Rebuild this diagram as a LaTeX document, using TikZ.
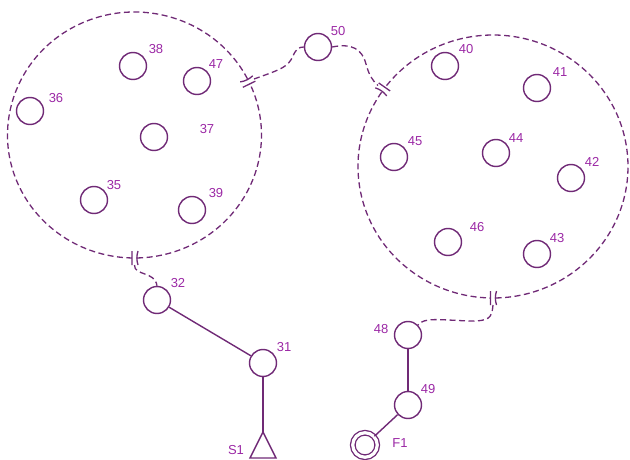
\documentclass[tikz,border=0pt]{standalone}
\usepackage{fontspec}
\setmainfont{Liberation Sans}
\definecolor{linec}{RGB}{112,42,118}
\definecolor{textc}{RGB}{155,40,165}
\begin{document}
\begin{tikzpicture}[x=1pt,y=1pt]
\tikzset{
  sn/.style={circle, draw=linec, line width=1.4pt, minimum size=27pt, inner sep=0pt},
  lbl/.style={text=textc, font=\fontsize{13}{13}\selectfont, inner sep=0pt},
  dsh/.style={draw=linec, line width=1.3pt, dash pattern=on 6pt off 3.5pt},
  sol/.style={draw=linec, line width=1.4pt},
  pics/brk/.style={code={\draw[linec, line width=1.3pt] (-7,-2.5)--(7,-2.5) (-7,3.5) .. controls (-2,2) and (2,2) .. (7,3.5);}}
}
\useasboundingbox (0,0) rectangle (630,459);
% big dashed regions
\coordinate (cL) at (134.5,324);
\coordinate (cR) at (493,292.5);
\draw[dsh] (cL) ++(27.2:127 and 123) arc[start angle=27.2, end angle=268.8, x radius=127, y radius=123];
\draw[dsh] (cL) ++(271.2:127 and 123) arc[start angle=271.2, end angle=384.8, x radius=127, y radius=123];
\draw[dsh] (cR) ++(145.6:135 and 131.5) arc[start angle=145.6, end angle=268.9, x radius=135, y radius=131.5];
\draw[dsh] (cR) ++(271.1:135 and 131.5) arc[start angle=271.1, end angle=503.4, x radius=135, y radius=131.5];
% break marks
\coordinate (bLT) at (248,377);
\coordinate (bLB) at (134.5,201);
\coordinate (bRT) at (383,370);
\coordinate (bRB) at (493,161);
\pic[rotate=26] at (bLT) {brk};
\pic[rotate=270] at (bLB) {brk};
\pic[rotate=145] at (bRT) {brk};
\pic[rotate=270] at (bRB) {brk};
\coordinate (bLTo) at (254,380);
\coordinate (bLBo) at (134.5,194);
\coordinate (bRTo) at (378,373.5);
\coordinate (bRBo) at (493,154);
% small nodes
\node[sn] (n38) at (133,393) {};
\node[sn] (n47) at (197,378) {};
\node[sn] (n36) at (30,348) {};
\node[sn] (n37) at (154,322) {};
\node[sn] (n35) at (94,259) {};
\node[sn] (n39) at (192,249) {};
\node[sn] (n50) at (318,412) {};
\node[sn] (n40) at (445,393) {};
\node[sn] (n41) at (537,371) {};
\node[sn] (n45) at (394,302) {};
\node[sn] (n44) at (496,306) {};
\node[sn] (n42) at (571,281) {};
\node[sn] (n46) at (448,217) {};
\node[sn] (n43) at (537,205) {};
\node[sn] (n32) at (157,159) {};
\node[sn] (n31) at (263,96) {};
\node[sn] (n48) at (408,124) {};
\node[sn] (n49) at (408,54) {};
\node[circle, draw=linec, line width=1.3pt, double, double distance=3.2pt, minimum size=24.5pt, inner sep=0pt] (f1) at (365,14) {};
\coordinate (s1) at (263,27);
\draw[sol, line join=miter] (s1) -- (276,1) -- (250,1) -- cycle;
% labels
\node[lbl] (l38) at (156,410) {38};
\node[lbl] (l47) at (216,395) {47};
\node[lbl] (l36) at (56,361) {36};
\node[lbl] (l37) at (207,330) {37};
\node[lbl] (l35) at (114,274) {35};
\node[lbl] (l39) at (216,266) {39};
\node[lbl] (l50) at (338,428) {50};
\node[lbl] (l40) at (466,410) {40};
\node[lbl] (l41) at (560,387) {41};
\node[lbl] (l45) at (415,318) {45};
\node[lbl] (l44) at (516,321) {44};
\node[lbl] (l42) at (592,297) {42};
\node[lbl] (l46) at (477,232) {46};
\node[lbl] (l43) at (557,221) {43};
\node[lbl] (l32) at (178,176) {32};
\node[lbl] (l31) at (284,112) {31};
\node[lbl] (l48) at (381,130) {48};
\node[lbl] (l49) at (428,70) {49};
\node[lbl] (lf1) at (400,16) {F1};
\node[lbl] (ls1) at (236,9) {S1};
% solid connectors
\draw[sol] (n32) -- (n31);
\draw[sol] (n31) -- (s1);
\draw[sol] (n48) -- (n49);
\draw[sol] (n49) -- (f1);
% dashed connectors
\draw[dsh] (bLBo) .. controls (134,183) and (155,188) .. (n32.north);
\draw[dsh] (bLTo) .. controls (282,390) and (288,392) .. (293,403) .. controls (296,410) and (299,412) .. (n50.west);
\draw[dsh] (n50.east) .. controls (352,416) and (362,410) .. (366,395) .. controls (369,384) and (372,379) .. (bRTo);
\draw[dsh] (bRBo) .. controls (492,140) and (488,138) .. (470,138) .. controls (440,139) and (424,142) .. (n48.45);
\end{tikzpicture}
\end{document}
